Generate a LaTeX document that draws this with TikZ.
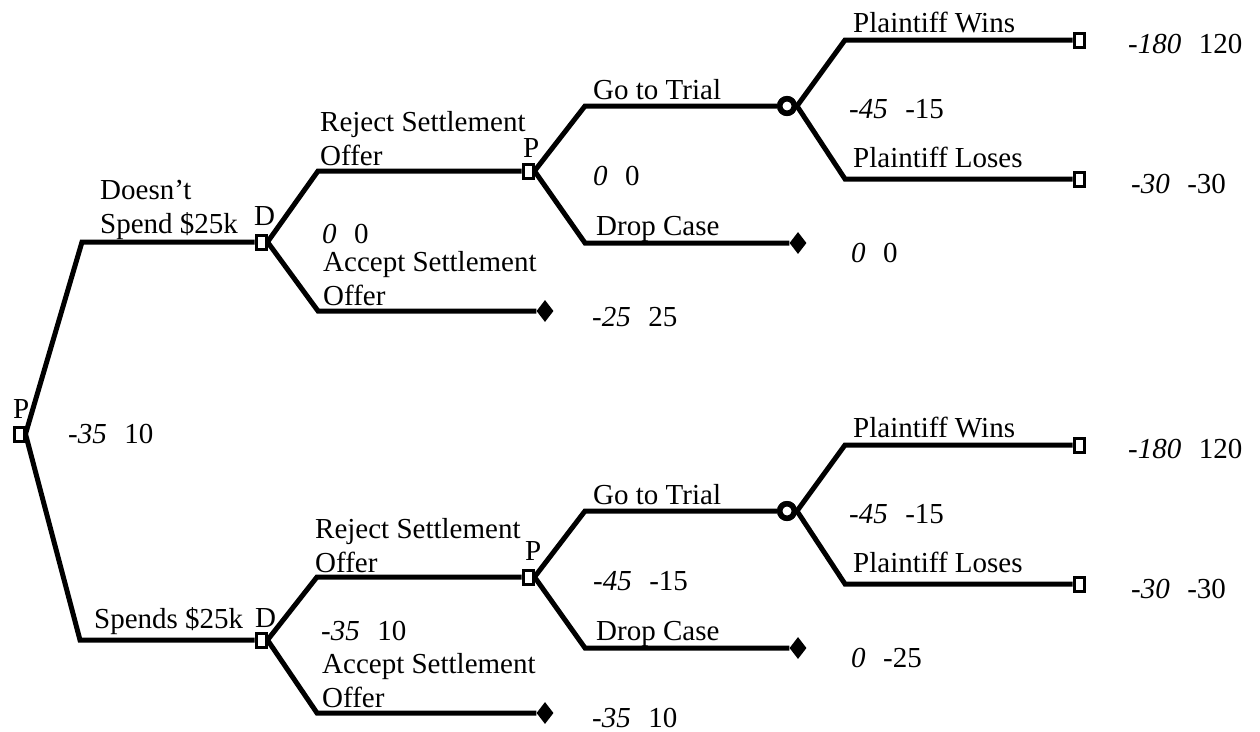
\documentclass[tikz,border=0pt]{standalone}
\usepackage{fontspec}
\setmainfont{Liberation Serif}
\usetikzlibrary{shapes.geometric}
\newcommand\pyf[2]{\textit{#1}\hspace{0.6em}#2}
\tikzset{
  br/.style={line width=5pt, line join=miter},
  sq/.style={draw, line width=3pt, fill=white, minimum width=10pt, minimum height=14pt, inner sep=0pt},
  chance/.style={circle, draw, line width=5.5pt, fill=white, minimum size=14.5pt, inner sep=0pt},
  endd/.style={diamond, fill=black, minimum width=17pt, minimum height=22pt, inner sep=0pt},
  lab/.style={anchor=base west, inner sep=0pt, align=left},
}
\begin{document}
\begin{tikzpicture}[x=1pt,y=-1pt,font=\fontsize{29}{33.5}\selectfont]
\useasboundingbox (0,0) rectangle (1260,731);
% nodes
\node[sq] (P0) at (19,434) {};
\node[sq] (D1) at (261,242) {};
\node[sq] (D2) at (261,640) {};
\node[sq] (P1) at (528,171) {};
\node[sq] (P2) at (528,577) {};
\node[endd] (E1) at (545,311) {};
\node[endd] (E2) at (798,243) {};
\node[endd] (E3) at (545,713) {};
\node[endd] (E4) at (798,648) {};
\node[chance] (C1) at (787,106) {};
\node[chance] (C2) at (787,511) {};
\node[sq] (T1) at (1079,40) {};
\node[sq] (T2) at (1079,179) {};
\node[sq] (T3) at (1079,445) {};
\node[sq] (T4) at (1079,584) {};
% corners
\coordinate (a1) at (82,242);
\coordinate (a2) at (80,640);
\coordinate (b1) at (318,171);
\coordinate (b2) at (318,311);
\coordinate (b3) at (317,577);
\coordinate (b4) at (317,713);
\coordinate (c1) at (585,106);
\coordinate (c2) at (585,243);
\coordinate (c3) at (585,511);
\coordinate (c4) at (585,648);
\coordinate (d1) at (845,40);
\coordinate (d2) at (845,179);
\coordinate (d3) at (845,445);
\coordinate (d4) at (845,584);
% connectors
\draw[br] (P0.east) -- (a1) -- (D1.west);
\draw[br] (P0.east) -- (a2) -- (D2.west);
\draw[br] (D1.east) -- (b1) -- (P1.west);
\draw[br] (D1.east) -- (b2) -- (E1.west);
\draw[br] (D2.east) -- (b3) -- (P2.west);
\draw[br] (D2.east) -- (b4) -- (E3.west);
\draw[br] (P1.east) -- (c1) -- (C1.west);
\draw[br] (P1.east) -- (c2) -- (E2.west);
\draw[br] (P2.east) -- (c3) -- (C2.west);
\draw[br] (P2.east) -- (c4) -- (E4.west);
\draw[br] (C1.east) -- (d1) -- (T1.west);
\draw[br] (C1.east) -- (d2) -- (T2.west);
\draw[br] (C2.east) -- (d3) -- (T3.west);
\draw[br] (C2.east) -- (d4) -- (T4.west);
% redraw node boxes on top
\node[sq] at (P0) {};
\node[sq] at (D1) {};
\node[sq] at (D2) {};
\node[sq] at (P1) {};
\node[sq] at (P2) {};
\node[chance] at (C1) {};
\node[chance] at (C2) {};
% labels
\node[lab] (lP0) at (13,418) {P};
\node[lab] (vP0) at (68,443) {\pyf{-35}{10}};
\node[lab] (lD1) at (254,225) {D};
\node[lab] (lD2) at (255,627) {D};
\node[lab] (lP1) at (523,157) {P};
\node[lab] (lP2) at (525,560) {P};
\node[lab] (t1) at (100,233) {Doesn’t\\Spend \$25k};
\node[lab] (t2) at (94,628) {Spends \$25k};
\node[lab] (t3) at (320,165) {Reject Settlement\\Offer};
\node[lab] (t4) at (323,305) {Accept Settlement\\Offer};
\node[lab] (t5) at (315,572) {Reject Settlement\\Offer};
\node[lab] (t6) at (322,707) {Accept Settlement\\Offer};
\node[lab] (t7) at (593,99) {Go to Trial};
\node[lab] (t8) at (596,235) {Drop Case};
\node[lab] (t9) at (593,504) {Go to Trial};
\node[lab] (t10) at (596,640) {Drop Case};
\node[lab] (t11) at (853,32) {Plaintiff Wins};
\node[lab] (t12) at (853,167) {Plaintiff Loses};
\node[lab] (t13) at (853,437) {Plaintiff Wins};
\node[lab] (t14) at (853,572) {Plaintiff Loses};
% payoffs
\node[lab] (v1) at (322,243) {\pyf{0}{0}};
\node[lab] (v2) at (592,326) {\pyf{-25}{25}};
\node[lab] (v3) at (593,185) {\pyf{0}{0}};
\node[lab] (v4) at (851,262) {\pyf{0}{0}};
\node[lab] (v5) at (849,118) {\pyf{-45}{-15}};
\node[lab] (v6) at (1128,53) {\pyf{-180}{120}};
\node[lab] (v7) at (1131,193) {\pyf{-30}{-30}};
\node[lab] (v8) at (321,640) {\pyf{-35}{10}};
\node[lab] (v9) at (592,727) {\pyf{-35}{10}};
\node[lab] (v10) at (593,590) {\pyf{-45}{-15}};
\node[lab] (v11) at (851,667) {\pyf{0}{-25}};
\node[lab] (v12) at (849,523) {\pyf{-45}{-15}};
\node[lab] (v13) at (1128,458) {\pyf{-180}{120}};
\node[lab] (v14) at (1131,598) {\pyf{-30}{-30}};
\end{tikzpicture}
\end{document}
